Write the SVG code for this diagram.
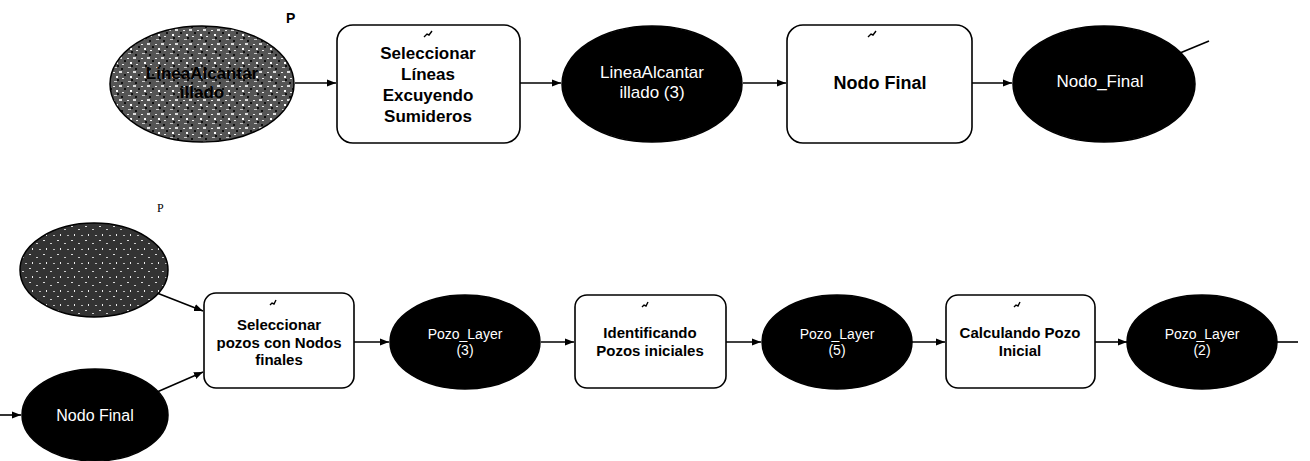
<svg xmlns="http://www.w3.org/2000/svg" width="1310" height="461" viewBox="0 0 1310 461">
<style>
.box{fill:#fff;stroke:#000;stroke-width:1.6}
.dark{fill:#000;stroke:#000;stroke-width:1.5}
.speck{stroke:#000;stroke-width:1.5}
.conn{fill:none;stroke:#000;stroke-width:1.6}
.bt{font-family:"Liberation Sans",Arial,sans-serif;font-weight:bold;fill:#000;text-anchor:middle}
.wt{font-family:"Liberation Sans",Arial,sans-serif;fill:#fff;text-anchor:middle}
.icon{fill:none;stroke:#000;stroke-width:1.4}
</style>
<defs>
<marker id="arr" viewBox="0 0 10 10" refX="10" refY="5" markerWidth="9" markerHeight="9" markerUnits="userSpaceOnUse" orient="auto">
<path d="M0,1 L10,5 L0,9 Z" fill="#000"/>
</marker>
<pattern id="spk" width="14" height="14" patternUnits="userSpaceOnUse">
<rect width="14" height="14" fill="#555"/>
<rect x="1" y="2" width="2" height="1" fill="#eee"/>
<rect x="7" y="1" width="3" height="2" fill="#ddd"/>
<rect x="4" y="6" width="2" height="2" fill="#fff"/>
<rect x="10" y="8" width="2" height="1" fill="#eee"/>
<rect x="2" y="11" width="3" height="1" fill="#ccc"/>
<rect x="9" y="12" width="2" height="2" fill="#111"/>
<rect x="12" y="4" width="2" height="2" fill="#111"/>
<rect x="5" y="9" width="2" height="2" fill="#111"/>
</pattern>
<pattern id="spk2" width="14" height="14" patternUnits="userSpaceOnUse">
<rect width="14" height="14" fill="#333"/>
<rect x="1" y="2" width="2" height="1" fill="#ddd"/>
<rect x="8" y="5" width="2" height="1" fill="#ccc"/>
<rect x="4" y="10" width="1" height="2" fill="#eee"/>
<rect x="11" y="11" width="2" height="1" fill="#bbb"/>
</pattern>
</defs>

<g id="connectors">
<line class="conn" x1="295" y1="83" x2="336" y2="83" marker-end="url(#arr)"/>
<line class="conn" x1="520" y1="83" x2="561" y2="83" marker-end="url(#arr)"/>
<line class="conn" x1="743" y1="83" x2="786" y2="83" marker-end="url(#arr)"/>
<line class="conn" x1="972" y1="83" x2="1012" y2="83" marker-end="url(#arr)"/>
<line class="conn" x1="1180" y1="53" x2="1209" y2="41"/>
<line class="conn" x1="157" y1="293" x2="203" y2="311" marker-end="url(#arr)"/>
<line class="conn" x1="157" y1="392" x2="203" y2="372" marker-end="url(#arr)"/>
<line class="conn" x1="0" y1="415" x2="21" y2="415" marker-end="url(#arr)"/>
<line class="conn" x1="354" y1="342" x2="389" y2="342" marker-end="url(#arr)"/>
<line class="conn" x1="541" y1="342" x2="574" y2="342" marker-end="url(#arr)"/>
<line class="conn" x1="726" y1="342" x2="761" y2="342" marker-end="url(#arr)"/>
<line class="conn" x1="912" y1="342" x2="945" y2="342" marker-end="url(#arr)"/>
<line class="conn" x1="1095" y1="342" x2="1127" y2="342" marker-end="url(#arr)"/>
<line class="conn" x1="1277" y1="342" x2="1298" y2="342"/>
</g>

<text x="286" y="23" font-family="Liberation Sans,Arial,sans-serif" font-size="14" font-weight="bold">P</text>
<text x="157" y="212" font-family="Liberation Serif,serif" font-size="12">P</text>

<g id="n-linea">
<ellipse class="speck" cx="202" cy="84" rx="92" ry="58" fill="url(#spk)"/>
<text class="bt" x="202" y="79" font-size="17">LineaAlcantar</text>
<text class="bt" x="202" y="98" font-size="17">illado</text>
</g>

<g id="n-sel-lineas">
<rect class="box" x="337" y="25" width="183" height="118" rx="16"/>
<path class="icon" d="M424,37 l3,-3 l2,1 l3,-4"/>
<text class="bt" x="428" y="59" font-size="17">Seleccionar</text>
<text class="bt" x="428" y="80" font-size="17">Líneas</text>
<text class="bt" x="428" y="101" font-size="17">Excuyendo</text>
<text class="bt" x="428" y="122" font-size="17">Sumideros</text>
</g>

<g id="n-linea3">
<ellipse class="dark" cx="652" cy="84" rx="90" ry="58"/>
<text class="wt" x="652" y="78" font-size="17">LineaAlcantar</text>
<text class="wt" x="652" y="98" font-size="17">illado (3)</text>
</g>

<g id="n-nodofinal-tool">
<rect class="box" x="787" y="25" width="185" height="118" rx="16"/>
<path class="icon" d="M868,37 l3,-3 l2,1 l3,-4"/>
<text class="bt" x="880" y="89" font-size="18">Nodo Final</text>
</g>

<g id="n-nodo-final-out">
<ellipse class="dark" cx="1104" cy="84" rx="91" ry="58"/>
<text class="wt" x="1100" y="87" font-size="17">Nodo_Final</text>
</g>

<g id="n-pozo">
<ellipse class="speck" cx="94" cy="270" rx="74" ry="47" fill="url(#spk2)"/>
</g>

<g id="n-nodo-final-in">
<ellipse class="dark" cx="95" cy="415" rx="73" ry="46"/>
<text class="wt" x="95" y="421" font-size="16">Nodo Final</text>
</g>

<g id="n-sel-pozos">
<rect class="box" x="204" y="293" width="150" height="95" rx="12"/>
<path class="icon" d="M270,305 l2,-2 l2,1 l2,-4"/>
<text class="bt" x="279" y="330" font-size="15">Seleccionar</text>
<text class="bt" x="279" y="348" font-size="15">pozos con Nodos</text>
<text class="bt" x="279" y="365" font-size="15">finales</text>
</g>

<g id="n-pozo3">
<ellipse class="dark" cx="465" cy="342" rx="75" ry="47"/>
<text class="wt" x="465" y="339" font-size="14">Pozo_Layer</text>
<text class="wt" x="465" y="355" font-size="14">(3)</text>
</g>

<g id="n-identificando">
<rect class="box" x="575" y="295" width="151" height="93" rx="12"/>
<path class="icon" d="M642,307 l2,-2 l2,1 l2,-4"/>
<text class="bt" x="650" y="338" font-size="15">Identificando</text>
<text class="bt" x="650" y="356" font-size="15">Pozos iniciales</text>
</g>

<g id="n-pozo5">
<ellipse class="dark" cx="837" cy="342" rx="75" ry="47"/>
<text class="wt" x="837" y="339" font-size="14">Pozo_Layer</text>
<text class="wt" x="837" y="355" font-size="14">(5)</text>
</g>

<g id="n-calculando">
<rect class="box" x="946" y="295" width="149" height="93" rx="12"/>
<path class="icon" d="M1014,307 l2,-2 l2,1 l2,-4"/>
<text class="bt" x="1020" y="338" font-size="15">Calculando Pozo</text>
<text class="bt" x="1020" y="356" font-size="15">Inicial</text>
</g>

<g id="n-pozo2">
<ellipse class="dark" cx="1202" cy="342" rx="75" ry="47"/>
<text class="wt" x="1202" y="339" font-size="14">Pozo_Layer</text>
<text class="wt" x="1202" y="355" font-size="14">(2)</text>
</g>
</svg>
